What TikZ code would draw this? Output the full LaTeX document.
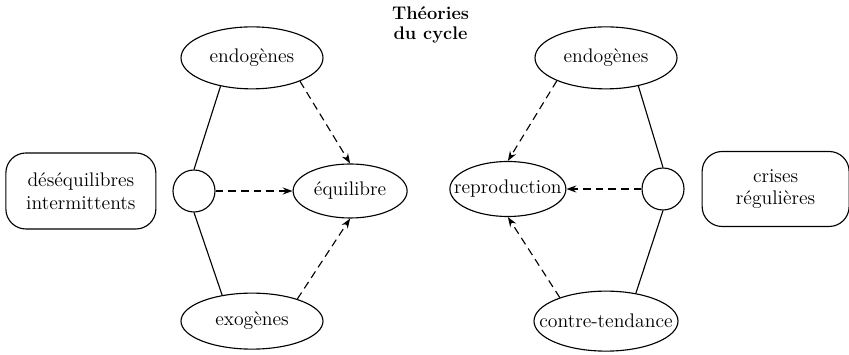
\documentclass[tikz,border=0pt]{standalone}
\usepackage{tikz}
\usetikzlibrary{positioning, arrows.meta, shapes.geometric, calc}

\begin{document}
\begin{tikzpicture}[font=\fontsize{14}{16}\selectfont, line width=0.8pt,
  oval/.style={draw, ellipse, inner xsep=-0.5cm, inner ysep=0pt},
  hub/.style={draw, circle, minimum size=1.05cm, inner sep=0pt},
  theory/.style={draw, rounded corners=0.5cm, align=center, inner sep=2pt},
  infl/.style={dash pattern=on 5.5pt off 3.5pt, -{Stealth[length=7pt, width=5pt]}}]

\useasboundingbox (-4.85,-4.1) rectangle (16.375,4.775);

% Left: equilibre
\node[hub] (cL) at (0,0) {};
\node[oval, right=1.925cm of cL, minimum width=2.85cm, minimum height=1.35cm] (equi) {équilibre};
\node[oval, above=2cm of cL, xshift=1.45cm, minimum width=3.55cm, minimum height=1.55cm] (endoL) {endogènes};
\node[oval, below=2cm of cL, xshift=1.45cm, minimum width=3.55cm, minimum height=1.4cm] (exoL) {exogènes};
\node[theory, left=0.4cm of cL, minimum width=3.75cm, minimum height=1.9cm] (deseq) {déséquilibres\\intermittents};

% Right: reproduction
\node[hub] (cR) at (11.725,0.05) {};
\node[oval, left=1.875cm of cR, minimum width=2.9cm, minimum height=1.375cm] (repro) {reproduction};
\node[oval, above=1.95cm of cR, xshift=-1.425cm, minimum width=3.55cm, minimum height=1.55cm] (endoR) {endogènes};
\node[oval, below=2cm of cR, xshift=-1.425cm, minimum width=3.6cm, minimum height=1.5cm] (ctr) {contre-tendance};
\node[theory, right=0.425cm of cR, minimum width=3.675cm, minimum height=1.875cm] (crises) {crises\\régulières};

% Title
\node[font=\fontsize{13}{14.5}\selectfont\bfseries, align=center] (title) at ($(cL)!0.5!(cR)+(0.05,4.125)$) {Théories\\du cycle};

% Solid links
\draw (endoL.222) -- (cL.north);
\draw (cL.south) -- (exoL.139);
\draw (endoR.-41) -- (cR.north);
\draw (cR.south) -- (ctr.43);

% Dashed influences
\draw[infl] (endoL.-26) -- (equi.north);
\draw[infl] (cL) -- (equi);
\draw[infl] (exoL.26) -- (equi.south);
\draw[infl] (endoR.205) -- (repro.north);
\draw[infl] (cR) -- (repro);
\draw[infl] (ctr.153) -- (repro.south);

\end{tikzpicture}
\end{document}
